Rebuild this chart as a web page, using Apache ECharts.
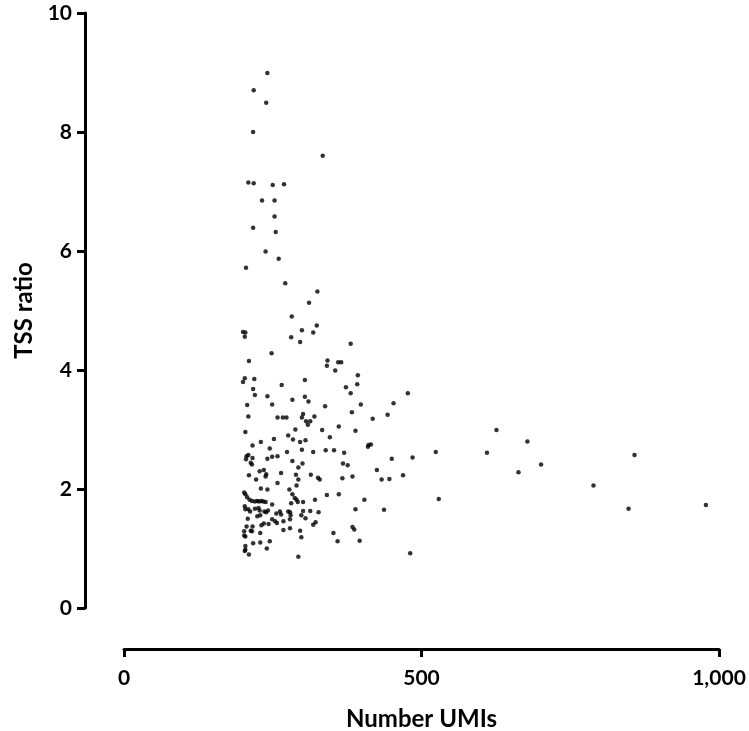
<!DOCTYPE html>
<html>
<head>
<meta charset="utf-8">
<script src="https://cdn.jsdelivr.net/npm/echarts@6/dist/echarts.min.js"></script>
<style>
	html, body { margin: 0; padding: 0; background: #fff; }
	#chart { width: 749px; height: 731px; }
</style>
</head>
<body>
<div id="chart"></div>
<script>
// 数据：x = Number UMIs, y = TSS ratio
var umis = [
	241, 218, 239, 217, 334, 209, 218, 250, 269, 232, 253, 253, 217, 255, 238, 260, 205, 271, 325,
	311, 282, 324, 299, 318, 281, 296, 381, 342, 341, 360, 365, 355, 393, 304, 265, 392, 373, 381, 477,
	304, 283, 310, 453, 398, 338, 383, 443, 301, 267, 273, 299, 320, 418, 306, 313, 309, 361, 288, 333,
	389, 276, 346, 284, 305, 296, 411, 415, 410, 274, 299, 318, 339, 353, 370, 450, 485, 524,
	626, 678, 610, 858, 701, 663, 433, 446, 469, 789, 529, 437, 848, 978, 481,
	248, 210, 203, 200, 219, 217, 220, 241, 207, 249, 209, 258, 204, 216, 230, 252, 245,
	200, 204, 203,
	206, 209, 216, 205, 213, 215, 241, 249, 258, 283, 300, 293, 210, 228, 235, 239, 238, 222, 264, 258,
	289, 293, 290, 314, 326, 230, 241, 202, 204, 207, 211, 215, 220, 224, 227, 231, 234, 238, 249, 278,
	283, 287, 290, 292, 281, 301, 321, 313, 327, 203, 204, 209, 212, 220, 226, 228, 236, 239, 242, 256,
	262, 264, 276, 279, 280, 301, 298, 208, 224, 229, 249, 254, 257, 268, 279, 305, 318, 322, 216, 231,
	235, 206, 215, 243, 268, 279, 296, 202, 202, 204, 213, 229, 298, 217, 229, 245, 240, 204, 204, 203,
	210, 293,
	368, 376, 425, 329, 367, 384, 341, 361, 404, 389, 384, 387, 352, 359, 396
];
var tssRatio = [
	8.99, 8.70, 8.49, 8.00, 7.60, 7.15, 7.14, 7.11, 7.12, 6.85, 6.85, 6.58, 6.39, 6.32, 5.99, 5.87, 5.72, 5.46, 5.32,
	5.13, 4.90, 4.75, 4.67, 4.63, 4.55, 4.47, 4.44, 4.16, 4.07, 4.13, 4.13, 3.99, 3.91, 3.83, 3.75, 3.76, 3.71, 3.61, 3.61,
	3.55, 3.50, 3.47, 3.44, 3.42, 3.39, 3.29, 3.25, 3.26, 3.20, 3.20, 3.20, 3.22, 3.18, 3.14, 3.14, 3.08, 3.05, 3.00, 2.99,
	2.98, 2.90, 2.87, 2.83, 2.82, 2.79, 2.74, 2.75, 2.71, 2.62, 2.66, 2.62, 2.65, 2.65, 2.61, 2.51, 2.53, 2.62,
	2.99, 2.80, 2.61, 2.57, 2.41, 2.28, 2.16, 2.17, 2.23, 2.06, 1.83, 1.65, 1.67, 1.73, 0.92,
	4.28, 4.15, 3.86, 3.80, 3.85, 3.68, 3.58, 3.56, 3.41, 3.42, 3.22, 3.20, 2.96, 2.73, 2.79, 2.84, 2.68,
	4.64, 4.63, 4.56,
	2.55, 2.57, 2.52, 2.50, 2.44, 2.41, 2.51, 2.54, 2.55, 2.47, 2.43, 2.36, 2.23, 2.30, 2.32, 2.25, 2.21, 2.16, 2.27, 2.10,
	2.24, 2.16, 2.06, 2.24, 2.19, 2.01, 1.99, 1.94, 1.91, 1.86, 1.82, 1.80, 1.79, 1.80, 1.79, 1.80, 1.79, 1.78, 1.74, 1.99,
	1.91, 1.85, 1.82, 1.78, 1.76, 1.78, 1.82, 1.63, 1.61, 1.71, 1.66, 1.66, 1.62, 1.67, 1.68, 1.64, 1.62, 1.61, 1.64, 1.59,
	1.62, 1.57, 1.62, 1.61, 1.56, 1.63, 1.56, 1.50, 1.54, 1.56, 1.49, 1.46, 1.43, 1.46, 1.49, 1.51, 1.40, 1.44, 1.37, 1.39,
	1.42, 1.37, 1.29, 1.41, 1.31, 1.34, 1.30, 1.29, 1.22, 1.20, 1.30, 1.26, 1.19, 1.09, 1.10, 1.12, 1.00, 1.04, 0.98, 0.96,
	0.90, 0.86,
	2.43, 2.40, 2.32, 2.16, 2.18, 2.21, 1.90, 1.91, 1.82, 1.66, 1.36, 1.32, 1.26, 1.12, 1.13
];
var xTicks = [0, 500, 1000];
var yTicks = [0, 2, 4, 6, 8, 10];

var points = umis.map(function(u, i) {
	return [u, tssRatio[i]];
});

var axisFont = 'Lato, "Open Sans", sans-serif';
var lineStyle = { color: '#000', width: 3 };

var chart = echarts.init(document.getElementById('chart'));
var option = {
	animation: false,
	grid: {
		left: 124,
		right: 30,
		top: 13,
		bottom: 123,
		outerBoundsMode: 'none'
	},
	xAxis: {
		type: 'value',
		min: xTicks[0],
		max: xTicks[xTicks.length - 1],
		interval: 500,
		offset: 41,
		name: 'Number UMIs',
		nameLocation: 'middle',
		nameGap: 58,
		nameTextStyle: { color: '#000', fontSize: 24, fontWeight: 'bold', fontFamily: axisFont },
		axisLine: { show: true, onZero: false, lineStyle: lineStyle },
		axisTick: { show: true, length: 8, lineStyle: lineStyle },
		axisLabel: {
			color: '#000',
			fontSize: 21,
			fontWeight: 'bold',
			fontFamily: axisFont,
			margin: 19,
			formatter: function(v) {
				return v.toString().replace(/\B(?=(\d{3})+(?!\d))/g, ',');
			}
		},
		splitLine: { show: false }
	},
	yAxis: {
		type: 'value',
		min: yTicks[0],
		max: yTicks[yTicks.length - 1],
		interval: 2,
		offset: 39,
		name: 'TSS ratio',
		nameLocation: 'middle',
		nameGap: 41,
		nameTextStyle: { color: '#000', fontSize: 24, fontWeight: 'bold', fontFamily: axisFont },
		axisLine: { show: true, onZero: false, lineStyle: lineStyle },
		axisTick: { show: true, length: 8, lineStyle: lineStyle },
		axisLabel: {
			color: '#000',
			fontSize: 21,
			fontWeight: 'bold',
			fontFamily: axisFont,
			margin: 13
		},
		splitLine: { show: false }
	},
	series: [{
		type: 'scatter',
		symbol: 'circle',
		symbolSize: 4.5,
		itemStyle: { color: '#000' },
		data: points
	}]
};
chart.setOption(option);
window.onresize = chart.resize;
</script>
</body>
</html>
